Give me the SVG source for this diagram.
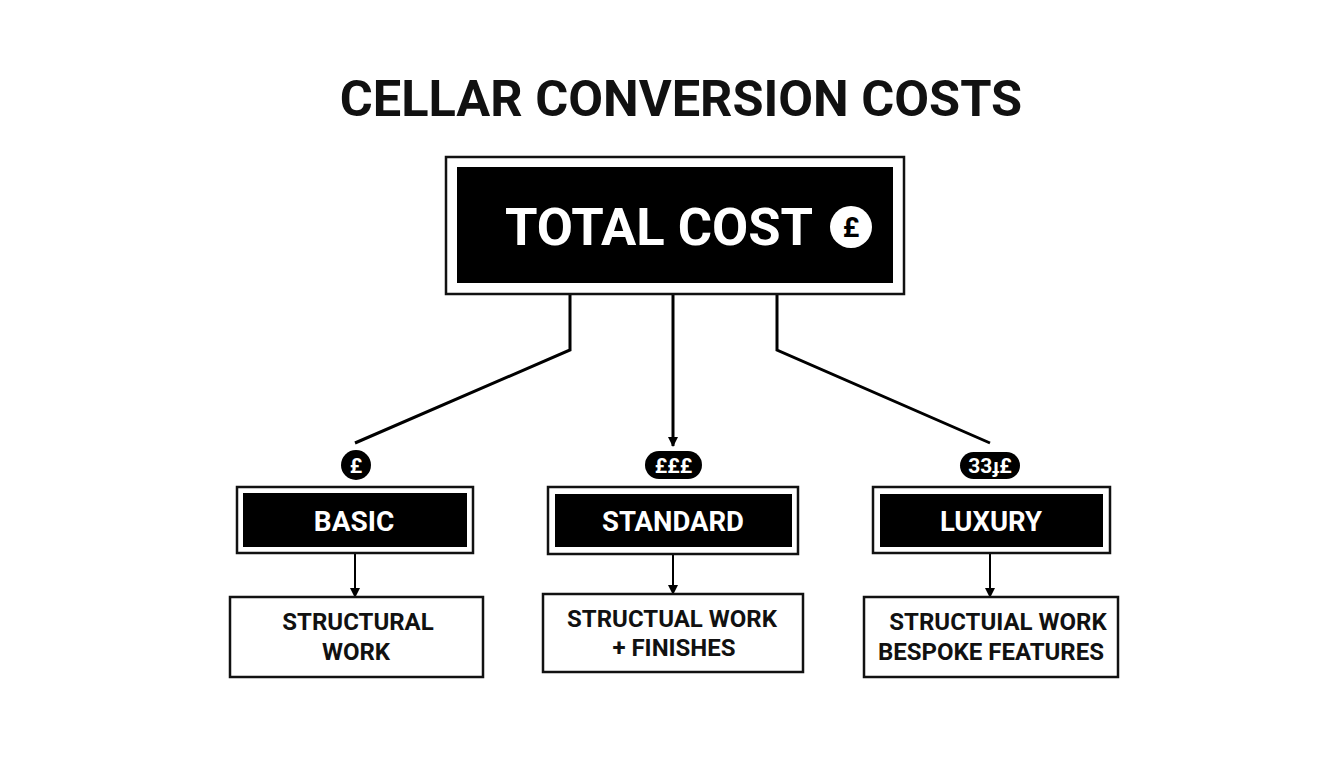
<svg xmlns="http://www.w3.org/2000/svg" width="1344" height="768" viewBox="0 0 1344 768">
<defs>
<style>
text{font-family:Roboto,"Liberation Sans",sans-serif;font-weight:700;text-anchor:middle}
.frame{fill:#fff;stroke:#111;stroke-width:2.5}
.fill{fill:#000}
.w{fill:#fff}
.d{fill:#111}
.conn{fill:none;stroke:#000;stroke-width:3}
</style>
<marker id="ah" viewBox="0 0 10 10" refX="9" refY="5" markerWidth="3.4" markerHeight="3.4" orient="auto" markerUnits="strokeWidth">
<path d="M0,0 L10,5 L0,10 Z" fill="#000"/>
</marker>
<marker id="ah2" viewBox="0 0 10 10" refX="9" refY="5" markerWidth="5" markerHeight="5" orient="auto" markerUnits="strokeWidth">
<path d="M0,0 L10,5 L0,10 Z" fill="#000"/>
</marker>
</defs>
<rect width="1344" height="768" fill="#fff"/>
<g id="title"><text x="681" y="116" font-size="50.5" class="d">CELLAR CONVERSION COSTS</text></g>

<g id="connectors">
<polyline class="conn" points="570,294 570,350 355,443"/>
<line class="conn" x1="673" y1="294" x2="673" y2="446" marker-end="url(#ah)"/>
<polyline class="conn" points="777,294 777,350 990,443"/>
<line class="conn" style="stroke-width:2" x1="355" y1="553" x2="355" y2="597" marker-end="url(#ah2)"/>
<line class="conn" style="stroke-width:2" x1="673" y1="554" x2="673" y2="594" marker-end="url(#ah2)"/>
<line class="conn" style="stroke-width:2" x1="990" y1="553" x2="990" y2="597" marker-end="url(#ah2)"/>
</g>

<g id="total">
<rect class="frame" x="446" y="157" width="458" height="137"/>
<rect class="fill" x="457" y="167" width="436" height="116"/>
<text x="659" y="245" font-size="52.5" class="w">TOTAL COST</text>
<circle cx="851" cy="227" r="21" class="w"/>
<text x="851" y="237" font-size="28" class="fill">£</text>
</g>

<g id="badge-basic">
<circle cx="356" cy="465" r="15" class="fill"/>
<text x="356" y="473" font-size="21" class="w">£</text>
</g>
<g id="badge-standard">
<rect x="645" y="451" width="57" height="28" rx="14" class="fill"/>
<text x="673.5" y="473" font-size="21" class="w">£££</text>
</g>
<g id="badge-luxury">
<rect x="960" y="452" width="60" height="27" rx="13.5" class="fill"/>
<text x="990" y="473" font-size="21" class="w">33ɟ£</text>
</g>

<g id="basic">
<rect class="frame" x="237" y="487" width="236" height="66"/>
<rect class="fill" x="243" y="493" width="224" height="54"/>
<text x="354" y="531" font-size="28" class="w">BASIC</text>
</g>
<g id="standard">
<rect class="frame" x="548" y="487" width="250" height="67"/>
<rect class="fill" x="555" y="494" width="237" height="53"/>
<text x="673" y="531" font-size="27.5" class="w">STANDARD</text>
</g>
<g id="luxury">
<rect class="frame" x="873" y="487" width="237" height="66"/>
<rect class="fill" x="880" y="494" width="223" height="53"/>
<text x="991" y="531" font-size="27.5" class="w">LUXURY</text>
</g>

<g id="detail-basic">
<rect class="frame" x="230" y="597" width="253" height="80"/>
<text x="358" y="630" font-size="24" class="d">STRUCTURAL</text>
<text x="356" y="660" font-size="24" class="d">WORK</text>
</g>
<g id="detail-standard">
<rect class="frame" x="543" y="594" width="260" height="78"/>
<text x="672" y="627" font-size="24" class="d">STRUCTUAL WORK</text>
<text x="674" y="656" font-size="24" class="d">+ FINISHES</text>
</g>
<g id="detail-luxury">
<rect class="frame" x="864" y="597" width="254" height="80"/>
<text x="998" y="630" font-size="24" class="d">STRUCTUIAL WORK</text>
<text x="991" y="660" font-size="24" class="d">BESPOKE FEATURES</text>
</g>
</svg>
